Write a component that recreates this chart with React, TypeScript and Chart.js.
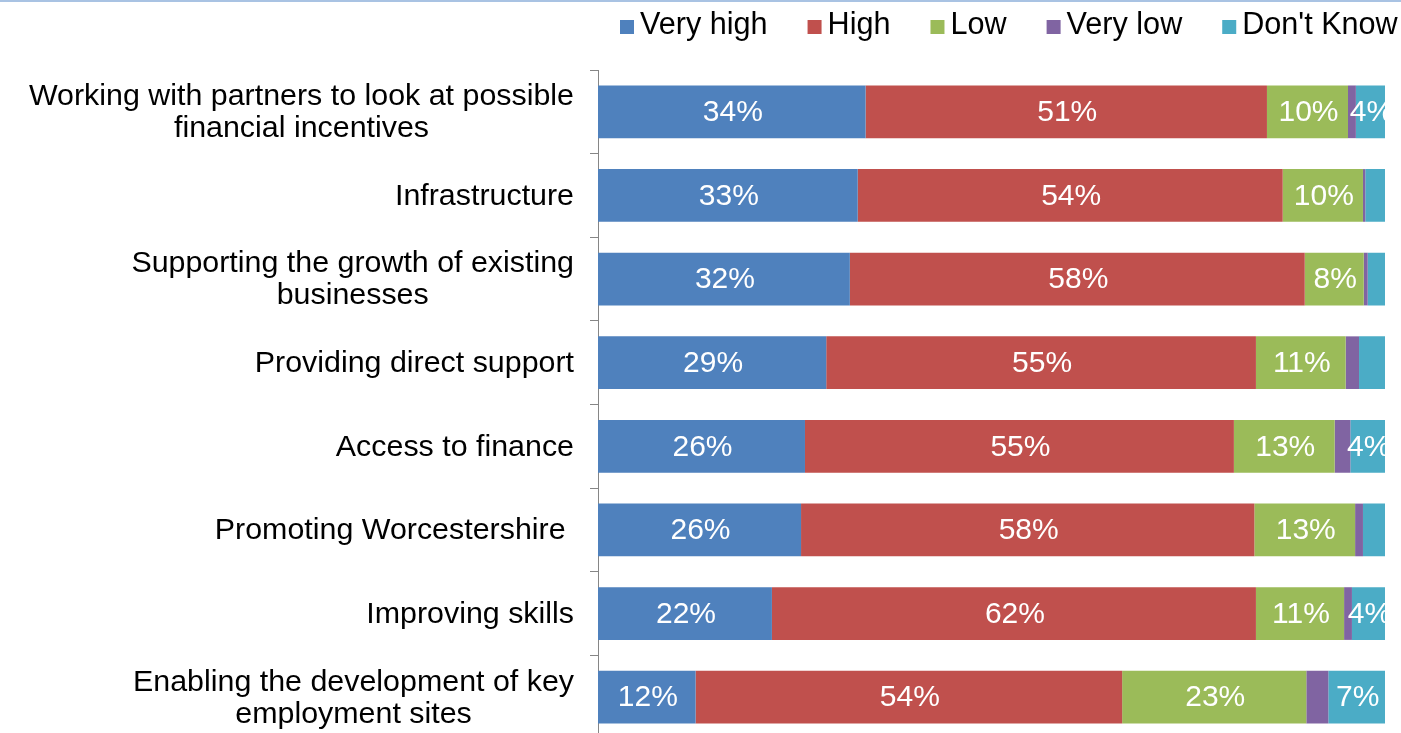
import React, { useEffect, useRef } from "react";
import { Chart, registerables } from "chart.js";

Chart.register(...registerables);

const categories: string[][] = [
  ["Working with partners to look at possible", "financial incentives"],
  ["Infrastructure"],
  ["Supporting the growth of existing", "businesses"],
  ["Providing direct support"],
  ["Access to finance"],
  ["Promoting Worcestershire "],
  ["Improving skills"],
  ["Enabling the development of key", "employment sites"],
];

const seriesNames = ["Very high", "High", "Low", "Very low", "Don't Know"];
const seriesColors = ["#4F81BD", "#C0504D", "#9BBB59", "#8064A2", "#4BACC6"];

const veryHigh = [34, 33, 32, 29, 26.3, 25.8, 22.1, 12.4];
const high = [51, 54, 57.8, 54.6, 54.5, 57.6, 61.5, 54.2];
const low = [10.3, 10.2, 7.5, 11.4, 12.8, 12.8, 11.2, 23.4];
const veryLow = [1, 0.3, 0.5, 1.7, 2, 1, 1, 2.8];
const dontKnow = [3.7, 2.5, 2.2, 3.3, 4.4, 2.8, 4.2, 7.2];

const FONT = "'Liberation Sans', Arial, sans-serif";

const customPlugin = {
  id: "custom",
  afterDatasetsDraw(chart: any) {
    const ctx = chart.ctx;
    const area = chart.chartArea;
    ctx.save();
    ctx.beginPath();
    ctx.rect(area.left, area.top, area.right - area.left, area.bottom - area.top);
    ctx.clip();
    ctx.font = `30px ${FONT}`;
    ctx.fillStyle = "#ffffff";
    ctx.textAlign = "center";
    ctx.textBaseline = "middle";
    chart.data.datasets.forEach((ds: any, di: number) => {
      const meta = chart.getDatasetMeta(di);
      meta.data.forEach((bar: any, i: number) => {
        const v = ds.data[i];
        if (v < 3.5) return;
        const props = bar.getProps(["x", "y", "base"], true);
        const cx = (props.x + props.base) / 2;
        ctx.fillText(`${Math.round(v)}%`, cx + 1, props.y + 1);
      });
    });
    ctx.restore();
  },
  afterDraw(chart: any) {
    const ctx = chart.ctx;
    const area = chart.chartArea;
    const yScale = chart.scales.y;
    ctx.save();
    // top rule
    ctx.fillStyle = "#a9c3e3";
    ctx.fillRect(0, 0, chart.width, 2);

    // category labels
    ctx.font = `30.4px ${FONT}`;
    ctx.fillStyle = "#000000";
    ctx.textAlign = "center";
    ctx.textBaseline = "middle";
    categories.forEach((lines, i) => {
      const y = yScale.getPixelForValue(i);
      const w = Math.max(...lines.map((l) => ctx.measureText(l).width));
      const cx = area.left - 24 - w / 2;
      lines.forEach((l, j) => {
        ctx.fillText(l, cx, y + (j - (lines.length - 1) / 2) * 32 + 1);
      });
    });

    // legend
    ctx.font = `30.6px ${FONT}`;
    let x = 620;
    const ly = 26;
    ctx.textAlign = "left";
    seriesNames.forEach((name, i) => {
      ctx.fillStyle = seriesColors[i];
      ctx.fillRect(x, ly - 6, 14, 14);
      x += 20;
      ctx.fillStyle = "#000000";
      ctx.fillText(name, x, ly);
      x += ctx.measureText(name).width + 40;
    });
    ctx.restore();
  },
};

export default function App() {
  const ref = useRef<HTMLCanvasElement | null>(null);
  useEffect(() => {
    document.body.style.margin = "0";
    const canvas = ref.current!;
    const seriesData = [veryHigh, high, low, veryLow, dontKnow];
    const chart = new Chart(canvas, {
      type: "bar",
      data: {
        labels: categories.map((c) => c.join(" ")),
        datasets: seriesData.map((d, i) => ({
          label: seriesNames[i],
          data: d,
          backgroundColor: seriesColors[i],
          borderWidth: 0,
          barPercentage: 0.63,
          categoryPercentage: 1,
        })),
      },
      options: {
        indexAxis: "y",
        responsive: false,
        animation: false,
        layout: { padding: { top: 70, bottom: 1, right: 16, left: 0 } },
        plugins: { legend: { display: false }, tooltip: { enabled: false } },
        scales: {
          x: { stacked: true, display: false, min: 0, max: 100 },
          y: {
            stacked: true,
            position: "left",
            offset: true,
            grid: {
              offset: true,
              drawOnChartArea: false,
              drawTicks: true,
              tickLength: 8,
              color: "#868686",
            },
            border: { display: true, color: "#868686" },
            ticks: { display: false },
            afterFit: (s: any) => {
              s.width = 598;
            },
          },
        },
      },
      plugins: [customPlugin],
    } as any);
    return () => chart.destroy();
  }, []);
  return (
    <div style={{ width: 1401, height: 733, overflow: "hidden", background: "#fff" }}>
      <canvas ref={ref} width={1401} height={740} style={{ display: "block" }} />
    </div>
  );
}
